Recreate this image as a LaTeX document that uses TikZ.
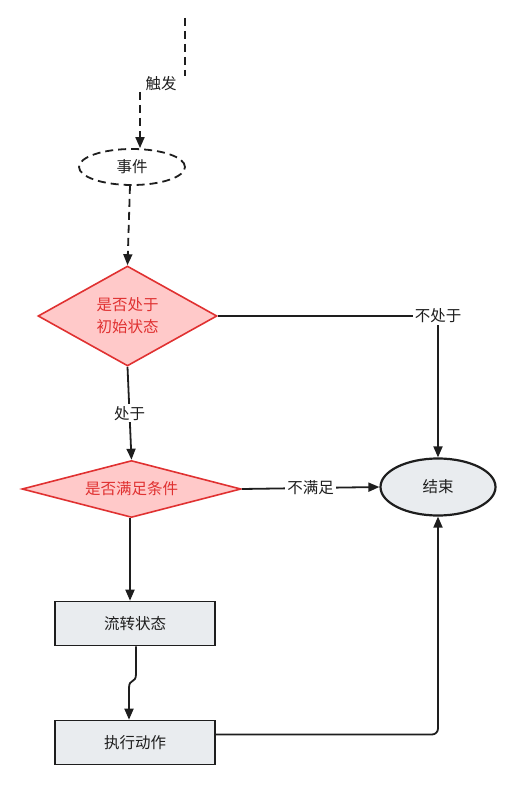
\documentclass[tikz,border=0pt]{standalone}
\usepackage{fontspec}
\setmainfont{Noto Sans CJK SC}
\usetikzlibrary{shapes.geometric,arrows.meta}
\definecolor{ink}{HTML}{1E1E1E}
\definecolor{redln}{HTML}{E03131}
\definecolor{redfill}{HTML}{FFC9C9}
\definecolor{grayfill}{HTML}{E9ECEF}
\tikzset{
  txt/.style={font=\fontsize{15.5}{22}\selectfont, text=ink},
  arr/.style={draw=ink, line width=1.8pt, -{Triangle[length=11pt,width=9pt]}},
  ln/.style={draw=ink, line width=1.8pt},
  dsh/.style={dash pattern=on 8pt off 5pt},
  lbl/.style={txt, fill=white, inner sep=2pt},
  dia/.style={shape=diamond, draw=redln, fill=redfill, line width=1.6pt, inner sep=0pt,
    font=\fontsize{15.5}{22}\selectfont, text=redln, align=center},
  oval/.style={shape=ellipse, draw=ink, inner sep=0pt, txt},
  boxn/.style={draw=ink, fill=grayfill, line width=1.6pt, minimum width=160pt, minimum height=44pt, inner sep=0pt, txt},
}
\begin{document}
\begin{tikzpicture}[x=1pt,y=-1pt]
\useasboundingbox (0,0) rectangle (522,786);
% nodes
\node[oval, dsh, line width=1.8pt, minimum width=106pt, minimum height=36pt] (evt) at (132,167) {事件};
\node[dia, shape aspect=1.79, minimum width=179pt, minimum height=100pt] (d1) at (127.5,316) {是否处于\\初始状态};
\node[dia, shape aspect=3.84, minimum width=219pt, minimum height=57pt] (d2) at (131.5,489) {是否满足条件};
\node[oval, fill=grayfill, line width=2.2pt, minimum width=115pt, minimum height=57pt] (end) at (438,487) {结束};
\node[boxn] (b1) at (135,623.5) {流转状态};
\node[boxn] (b2) at (135,742.5) {执行动作};
% start
\coordinate (s) at (185,18);
\coordinate (t1) at (185,76);
\coordinate (t2) at (140,92);
\node[txt, inner sep=1pt] (trig) at (161,84) {触发};
\draw[ln, dsh] (s) -- (t1);
\draw[arr, dsh] (t2) -- ([xshift=8pt]evt.north);
% connectors
\draw[arr, dsh] ([xshift=-2pt]evt.south) -- (d1.north);
\coordinate (c1) at (438,316);
\draw[arr] (d1.east) -- (c1) -- (end.north);
\node[lbl] (l1) at (c1) {不处于};
\draw[arr] (d1.south) -- node[lbl] (l2) {处于} (d2.north);
\draw[arr] (d2.east) -- node[lbl, pos=0.5] (l3) {不满足} (end.west);
\draw[arr] ([xshift=-1.5pt]d2.south) -- ([xshift=-1.5pt]d2.south |- b1.north);
\coordinate (j1) at (136,674);
\coordinate (j2) at (129,688);
\draw[arr] ([xshift=1pt]b1.south) -- (j1) .. controls (136,684) and (129,678) .. (j2) -- ([xshift=-6pt]b2.north);
\draw[arr, rounded corners=6pt] ([yshift=8pt]b2.east) -| (end.south);
\end{tikzpicture}
\end{document}
